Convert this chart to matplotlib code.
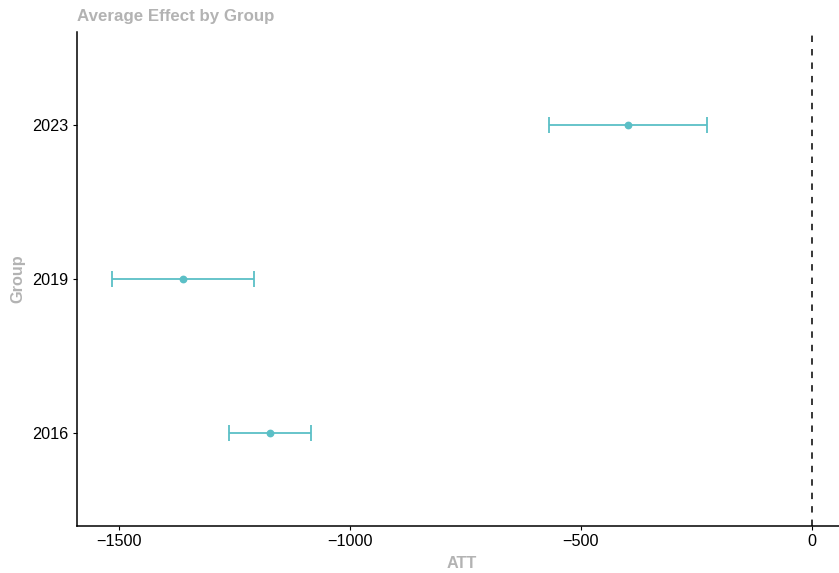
import matplotlib
matplotlib.use("Agg")
import matplotlib.pyplot as plt

# Group-level average treatment effects with confidence intervals
groups = ["2016", "2019", "2023"]
att = [-1173, -1362, -398]
ci_low = [-1262, -1516, -569]
ci_high = [-1085, -1208, -227]

x_ticks = [-1500, -1000, -500, 0]

plt.rcParams["font.family"] = ["Liberation Sans", "DejaVu Sans"]

teal = "#5bbfc6"
grey = "#b3b3b3"

fig = plt.figure(figsize=(8.39, 5.73), dpi=100)
ax = fig.add_axes([77 / 839, 47 / 573, 770 / 839, 494 / 573])

ypos = list(range(1, len(groups) + 1))
err_lo = [a - l for a, l in zip(att, ci_low)]
err_hi = [h - a for a, h in zip(att, ci_high)]

ax.axvline(0, color="black", lw=1.1, linestyle=(0, (4.2, 4.6)), zorder=1)
ax.errorbar(att, ypos, xerr=[err_lo, err_hi], fmt="o", color=teal,
            ecolor=teal, elinewidth=1.3, capsize=5.6, capthick=1.3,
            markersize=4.6, zorder=3)

ax.set_yticks(ypos)
ax.set_yticklabels(groups)
ax.set_xticks(x_ticks)
ax.set_ylim(0.4, 3.6)
ax.set_xlim(-1591, 76)

for s in ["top", "right"]:
    ax.spines[s].set_visible(False)
for s in ["left", "bottom"]:
    ax.spines[s].set_linewidth(1.1)
    ax.spines[s].set_color("black")

ax.tick_params(axis="both", length=3, width=0.8, color="black",
               labelsize=11.7, labelcolor="black", pad=3)

ax.set_xlabel("ATT", color=grey, fontsize=11.7, fontweight="bold", labelpad=5)
ax.set_ylabel("Group", color=grey, fontsize=11.7, fontweight="bold", labelpad=5)
ax.set_title("Average Effect by Group", color=grey, fontsize=12.2,
             fontweight="bold", loc="left", pad=8, x=0)

fig.savefig("out.png", dpi=100)
